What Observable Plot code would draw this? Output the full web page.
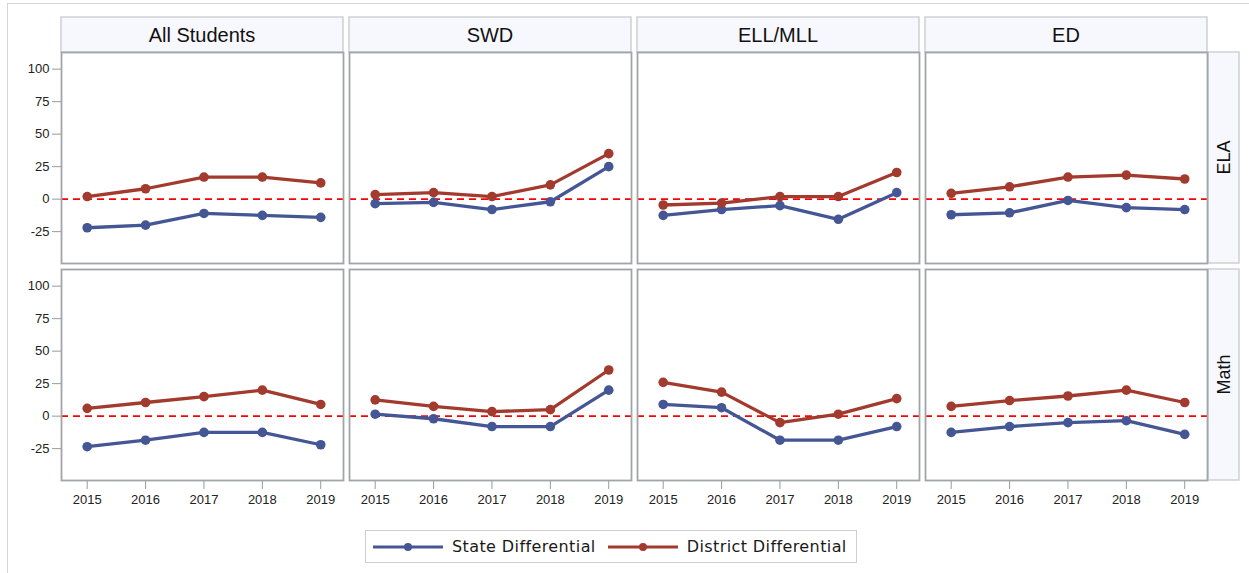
<!DOCTYPE html>
<html><head><meta charset="utf-8">
<script src="https://cdn.jsdelivr.net/npm/d3@7"></script>
<script src="https://cdn.jsdelivr.net/npm/@observablehq/plot@0.6"></script>
<style>
body{margin:0;background:#fff;width:1249px;height:573px;overflow:hidden;position:relative;font-family:"Liberation Sans",Arial,sans-serif}
#border{position:absolute;left:7px;top:3px;width:1400px;height:800px;border-left:1.5px solid #d6d6d6;border-top:1.5px solid #d6d6d6}
#chart{position:absolute;left:0;top:0}
#legend{position:absolute;left:365px;top:530px;width:492px;height:33px;border:1px solid #cfcfcf;box-sizing:border-box;display:flex;flex-wrap:nowrap;align-items:center;white-space:nowrap;font-family:"DejaVu Sans";font-size:16px;letter-spacing:0.4px;color:#1a1a1a;padding-left:6px}
#legend .item{display:flex;align-items:center;flex-shrink:0;margin-right:11px}
#legend svg{margin-right:8px;flex-shrink:0}
</style></head>
<body>
<div id="border"></div>
<div id="chart"></div>
<div id="legend"></div>
<script>
const years = [2015, 2016, 2017, 2018, 2019];
const subjects = ["ELA", "Math"];
const groups = ["All Students", "SWD", "ELL/MLL", "ED"];
const series = ["State Differential", "District Differential"];
const colors = ["#445694", "#a23a2e"];
const yTicks = [-25, 0, 25, 50, 75, 100];

// values per group (All Students, SWD, ELL/MLL, ED), per year 2015..2019
const stateELA = [
  [-22, -20, -11, -12.5, -14],
  [-3.5, -2.5, -8, -2, 25],
  [-12.5, -8, -5, -15.5, 5],
  [-12, -10.5, -1, -6.5, -8]
];
const districtELA = [
  [2, 8, 17, 17, 12.5],
  [3.5, 5, 2, 11, 35],
  [-4.5, -3, 2, 2, 20.5],
  [4.5, 9.5, 17, 18.5, 15.5]
];
const stateMath = [
  [-23.5, -18.5, -12.5, -12.5, -22],
  [1.5, -2, -8, -8, 20],
  [9, 6.5, -18.5, -18.5, -8],
  [-12.5, -8, -5, -3.5, -14]
];
const districtMath = [
  [6, 10.5, 15, 20, 9],
  [12.5, 7.5, 3.5, 5, 35.5],
  [26, 18.5, -5, 1.5, 13.5],
  [7.5, 12, 15.5, 20, 10.5]
];

const table = [
  ["ELA", series[0], stateELA], ["ELA", series[1], districtELA],
  ["Math", series[0], stateMath], ["Math", series[1], districtMath]
];
const rows = [];
for (const [subject, s, vals] of table) {
  groups.forEach((g, gi) => {
    years.forEach((yr, yi) => rows.push({subject, group: g, series: s, year: yr, value: vals[gi][yi]}));
  });
}

const W = 1249, H = 520, MT = 52, MR = 42;
const plot = Plot.plot({
  width: W, height: H,
  marginLeft: 61, marginRight: MR, marginTop: MT, marginBottom: 40,
  style: {fontFamily: "Liberation Sans, Arial, sans-serif", background: "transparent", color: "#222"},
  fx: {domain: groups, paddingInner: 6 / 288, paddingOuter: 0, round: false, axis: null},
  fy: {domain: subjects, paddingInner: 6 / 217, paddingOuter: 0, round: false, axis: null},
  x: {domain: [2014.56, 2019.39]},
  y: {domain: [-49.5, 112.8]},
  color: {domain: series, range: colors},
  marks: [
    Plot.axisX({ticks: years, tickFormat: d => String(d), tickSize: 9, tickPadding: 5, fontSize: 13, stroke: "#999", label: null}),
    Plot.axisY({ticks: yTicks, tickFormat: d => String(d), tickSize: 9, tickPadding: 3, fontSize: 13, stroke: "#999", label: null}),
    Plot.ruleY([0], {stroke: "#ff0000", strokeDasharray: "7,5", strokeWidth: 1.8}),
    Plot.line(rows, {x: "year", y: "value", z: "series", stroke: "series", fx: "group", fy: "subject", strokeWidth: 3.3}),
    Plot.dot(rows, {x: "year", y: "value", fill: "series", r: 4.8, fx: "group", fy: "subject"}),
    Plot.frame({stroke: "#a0a5aa", strokeWidth: 1.8})
  ]
});
document.getElementById("chart").appendChild(plot);

// facet strips, placed with the library's facet scales
const fxS = plot.scale("fx"), fyS = plot.scale("fy");
const fxBand = fxS.bandwidth, fyBand = fyS.bandwidth;
const svgSel = d3.select(plot);
const strips = svgSel.insert("g", ":first-child");
groups.forEach(g => {
  const x0 = fxS.apply(g);
  strips.append("rect").attr("x", x0).attr("y", 17).attr("width", fxBand).attr("height", MT - 17)
    .attr("fill", "#f7f8fd").attr("stroke", "#cfd1d4").attr("stroke-width", 1.5);
  strips.append("text").attr("x", x0 + fxBand / 2).attr("y", 42).attr("text-anchor", "middle")
    .attr("font-size", 20).attr("fill", "#111").text(g);
});
const rightEdge = W - MR;
subjects.forEach(s => {
  const y0 = fyS.apply(s);
  strips.append("rect").attr("x", rightEdge + 1).attr("y", y0).attr("width", 31).attr("height", fyBand)
    .attr("fill", "#f7f8fd").attr("stroke", "#cfd1d4").attr("stroke-width", 1.5);
  strips.append("text").attr("transform", `translate(${rightEdge + 23},${y0 + fyBand / 2}) rotate(-90)`)
    .attr("text-anchor", "middle").attr("font-size", 18).attr("fill", "#111").text(s);
});

// legend
const legend = d3.select("#legend");
series.forEach((s, i) => {
  const item = legend.append("div").attr("class", "item");
  const sv = item.append("svg").attr("width", 72).attr("height", 12);
  sv.append("line").attr("x1", 1).attr("x2", 71).attr("y1", 6).attr("y2", 6).attr("stroke", colors[i]).attr("stroke-width", 3);
  sv.append("circle").attr("cx", 36).attr("cy", 6).attr("r", 4).attr("fill", colors[i]);
  item.append("span").text(s);
});
</script>
</body></html>
